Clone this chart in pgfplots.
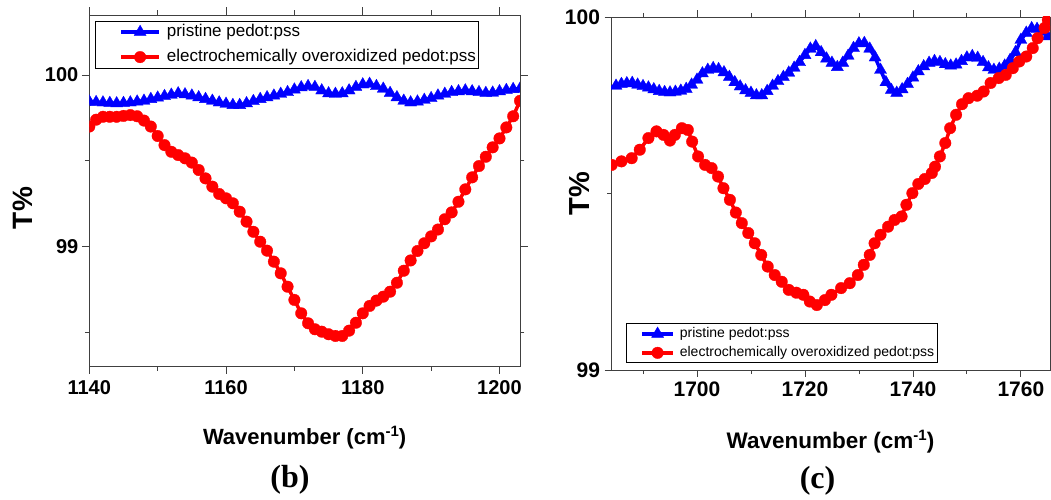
\documentclass[border=0pt]{standalone}
\usepackage{fontspec}
\setmainfont{Liberation Sans}
\newfontfamily\timesfont{Liberation Serif}
\usepackage{pgfplots}
\usepackage{pgfplotstable}
\pgfplotsset{compat=1.18}
\definecolor{pblue}{RGB}{0,0,255}
\definecolor{pred}{RGB}{255,0,0}

\pgfplotstableread{
x y
1140 99.845
1141 99.842
1142 99.840
1143 99.837
1144 99.835
1145 99.837
1146 99.840
1147 99.845
1148 99.850
1149 99.860
1150 99.868
1151 99.877
1152 99.885
1153 99.893
1154 99.887
1155 99.880
1156 99.870
1157 99.860
1158 99.850
1159 99.840
1160 99.832
1161 99.825
1162 99.825
1163 99.835
1164 99.848
1165 99.860
1166 99.870
1167 99.880
1168 99.890
1169 99.900
1170 99.915
1171 99.928
1172 99.935
1173 99.930
1174 99.910
1175 99.893
1176 99.890
1177 99.893
1178 99.910
1179 99.930
1180 99.945
1181 99.948
1182 99.935
1183 99.920
1184 99.895
1185 99.870
1186 99.850
1187 99.840
1188 99.845
1189 99.855
1190 99.865
1191 99.880
1192 99.890
1193 99.900
1194 99.905
1195 99.910
1196 99.905
1197 99.900
1198 99.895
1199 99.897
1200 99.905
1201 99.912
1202 99.918
1203 99.920
}\leftblue

\pgfplotstableread{
x y
1140 99.700
1141 99.740
1142 99.757
1143 99.757
1144 99.757
1145 99.762
1146 99.767
1147 99.760
1148 99.735
1149 99.700
1150 99.645
1151 99.592
1152 99.553
1153 99.534
1154 99.515
1155 99.490
1156 99.447
1157 99.398
1158 99.350
1159 99.307
1160 99.282
1161 99.253
1162 99.204
1163 99.146
1164 99.087
1165 99.029
1166 98.977
1167 98.913
1168 98.845
1169 98.767
1170 98.690
1171 98.612
1172 98.554
1173 98.519
1174 98.505
1175 98.490
1176 98.480
1177 98.480
1178 98.511
1179 98.557
1180 98.612
1181 98.655
1182 98.686
1183 98.709
1184 98.738
1185 98.790
1186 98.860
1187 98.920
1188 98.975
1189 99.020
1190 99.060
1191 99.100
1192 99.160
1193 99.200
1194 99.262
1195 99.334
1196 99.404
1197 99.470
1198 99.524
1199 99.579
1200 99.631
1201 99.695
1202 99.760
1203 99.850
}\leftred

\pgfplotstableread{
x y
1684 99.800
1685 99.805
1686 99.810
1687 99.812
1688 99.813
1689 99.808
1690 99.804
1691 99.800
1692 99.795
1693 99.790
1694 99.787
1695 99.786
1696 99.788
1697 99.791
1698 99.796
1699 99.808
1700 99.822
1701 99.840
1702 99.850
1703 99.855
1704 99.852
1705 99.843
1706 99.830
1707 99.815
1708 99.803
1709 99.792
1710 99.785
1711 99.778
1712 99.778
1713 99.790
1714 99.805
1715 99.818
1716 99.830
1717 99.842
1718 99.856
1719 99.872
1720 99.892
1721 99.910
1722 99.917
1723 99.900
1724 99.882
1725 99.870
1726 99.858
1727 99.870
1728 99.890
1729 99.912
1730 99.925
1731 99.926
1732 99.910
1733 99.885
1734 99.850
1735 99.815
1736 99.793
1737 99.785
1738 99.795
1739 99.810
1740 99.828
1741 99.846
1742 99.860
1743 99.870
1744 99.875
1745 99.872
1746 99.866
1747 99.862
1748 99.865
1749 99.875
1750 99.885
1751 99.889
1752 99.884
1753 99.872
1754 99.857
1755 99.850
1756 99.853
1757 99.862
1758 99.878
1759 99.900
1760 99.935
1761 99.955
1762 99.968
1763 99.966
1764 99.958
1765 99.945
}\rightblue

\pgfplotstableread{
x y
1684.2 99.581
1686.0 99.591
1687.9 99.600
1689.4 99.624
1691.0 99.657
1692.5 99.676
1693.8 99.666
1695.0 99.650
1695.9 99.666
1697.2 99.685
1698.3 99.680
1699.1 99.647
1700.2 99.605
1701.5 99.581
1702.7 99.572
1703.9 99.548
1704.9 99.515
1706.1 99.482
1707.2 99.446
1708.3 99.416
1709.5 99.388
1710.7 99.359
1711.9 99.326
1713.1 99.293
1714.4 99.269
1715.7 99.250
1717.0 99.227
1718.4 99.219
1719.7 99.213
1720.9 99.194
1722.2 99.184
1723.7 99.198
1724.9 99.213
1726.7 99.232
1728.3 99.246
1729.8 99.269
1730.9 99.298
1732.0 99.326
1732.9 99.359
1734.0 99.383
1735.4 99.406
1736.6 99.425
1737.9 99.435
1738.8 99.468
1739.9 99.501
1741.0 99.527
1742.2 99.541
1743.5 99.558
1744.1 99.576
1745.0 99.605
1746.0 99.643
1746.9 99.685
1748.0 99.723
1749.1 99.753
1750.3 99.770
1751.9 99.777
1753.1 99.789
1754.4 99.813
1755.9 99.827
1757.2 99.836
1758.5 99.855
1759.7 99.874
1761.0 99.888
1762.2 99.912
1763.1 99.940
1764.4 99.969
1765.0 99.992
}\rightred

\pgfplotsset{
  myaxis/.style={
    scale only axis,
    axis line style={black!75, line width=0.8pt},
    tick style={black!75, line width=0.8pt},
    tick align=outside,
    /pgf/number format/assume math mode=true,
    clip marker paths=true,
  },
}
\newcommand{\supm}{\raisebox{8pt}{\fontsize{15}{15}\selectfont -1}}

\begin{document}
\begin{tikzpicture}[x=1pt,y=1pt]
\path[use as bounding box] (0,0) rectangle (1051,499);

% ---------- panel (b)
\begin{axis}[myaxis,
  at={(89.3pt,133pt)}, anchor=south west,
  width=430.7pt, height=351pt,
  xmin=1140, xmax=1203, ymin=98.305, ymax=100.35,
  xtick={1140,1160,1180,1200}, xticklabels={1140,1160,1180,1200},
  minor xtick={1150,1170,1190},
  ytick={99,100}, yticklabels={99,100},
  minor ytick={98.5,99.5},
  major tick length=7.5pt, minor tick length=4.5pt,
  xticklabel style={font=\fontsize{20}{20}\selectfont\bfseries, yshift=-3.5pt},
  yticklabel style={font=\fontsize{20}{20}\selectfont\bfseries, xshift=0pt},
  xlabel={Wavenumber (cm\supm)},
  xlabel style={font=\fontsize{22}{22}\selectfont\bfseries, at={(axis description cs:0.5,-0.225)}, anchor=base},
  ylabel={T\%},
  ylabel style={font=\fontsize{28}{28}\selectfont\bfseries, at={(axis description cs:-0.154,0.45)}, anchor=center, rotate=0},
  legend style={at={(axis description cs:0.0132,0.9838)}, anchor=north west,
    draw=black, line width=0.8pt, fill=white,
    font=\fontsize{17}{17}\selectfont,
    inner xsep=3pt, inner ysep=3pt, row sep=9pt, column sep=6pt,
    nodes={inner sep=0pt, text height=12pt, text depth=4pt}},
  legend cell align=left,
  legend image code/.code={%
    \path (0pt,0pt);
    \draw[#1, mark repeat=2, mark phase=2] plot coordinates {(21pt,0pt) (40pt,0pt) (59pt,0pt)};},
]
\addplot[pblue, line width=3.5pt, mark=triangle*, mark size=7pt, mark options={solid, line width=0.3pt}] table {\leftblue};
\addlegendentry{pristine pedot:pss}
\addplot[pred, line width=3.5pt, mark=*, mark size=5.8pt, mark options={solid, line width=0.3pt}] table {\leftred};
\addlegendentry{electrochemically overoxidized pedot:pss}
\end{axis}

% ---------- panel (c)
\begin{axis}[myaxis,
  at={(611pt,129pt)}, anchor=south west,
  width=439pt, height=353pt,
  xmin=1684.07, xmax=1765.4, ymin=99, ymax=100,
  xtick={1700,1720,1740,1760}, xticklabels={1700,1720,1740,1760},
  minor xtick={1690,1710,1730,1750},
  ytick={99,100}, yticklabels={99,100},
  minor ytick={99.5},
  major tick length=6.5pt, minor tick length=4pt,
  xticklabel style={font=\fontsize{21}{21}\selectfont\bfseries, yshift=-2pt},
  yticklabel style={font=\fontsize{21}{21}\selectfont\bfseries, xshift=-1pt},
  xlabel={Wavenumber (cm\supm)},
  xlabel style={font=\fontsize{22.5}{22.5}\selectfont\bfseries, at={(axis description cs:0.5,-0.222)}, anchor=base},
  ylabel={T\%},
  ylabel style={font=\fontsize{29}{29}\selectfont\bfseries, at={(axis description cs:-0.0706,0.5)}, anchor=center, rotate=0},
  legend style={at={(axis description cs:0.034,0.0198)}, anchor=south west,
    draw=black, line width=0.8pt, fill=white,
    font=\fontsize{14}{14}\selectfont,
    inner xsep=3pt, inner ysep=3pt, row sep=5.5pt, column sep=5pt,
    nodes={inner sep=0pt, text height=10pt, text depth=3.5pt}},
  legend cell align=left,
  legend image code/.code={%
    \path (0pt,0pt);
    \draw[#1, mark repeat=2, mark phase=2] plot coordinates {(11pt,0pt) (26.5pt,0pt) (42pt,0pt)};},
]
\addplot[pblue, line width=3.5pt, mark=triangle*, mark size=7pt, mark options={solid, line width=0.3pt}] table {\rightblue};
\addlegendentry{pristine pedot:pss}
\addplot[pred, line width=3.5pt, mark=*, mark size=5.8pt, mark options={solid, line width=0.3pt}] table {\rightred};
\addlegendentry{electrochemically overoxidized pedot:pss}
\end{axis}

\node[font=\fontsize{32}{32}\selectfont\timesfont\bfseries] at (290pt,19pt) {(b)};
\node[font=\fontsize{32}{32}\selectfont\timesfont\bfseries] at (817.5pt,18pt) {(c)};
\end{tikzpicture}
\end{document}
